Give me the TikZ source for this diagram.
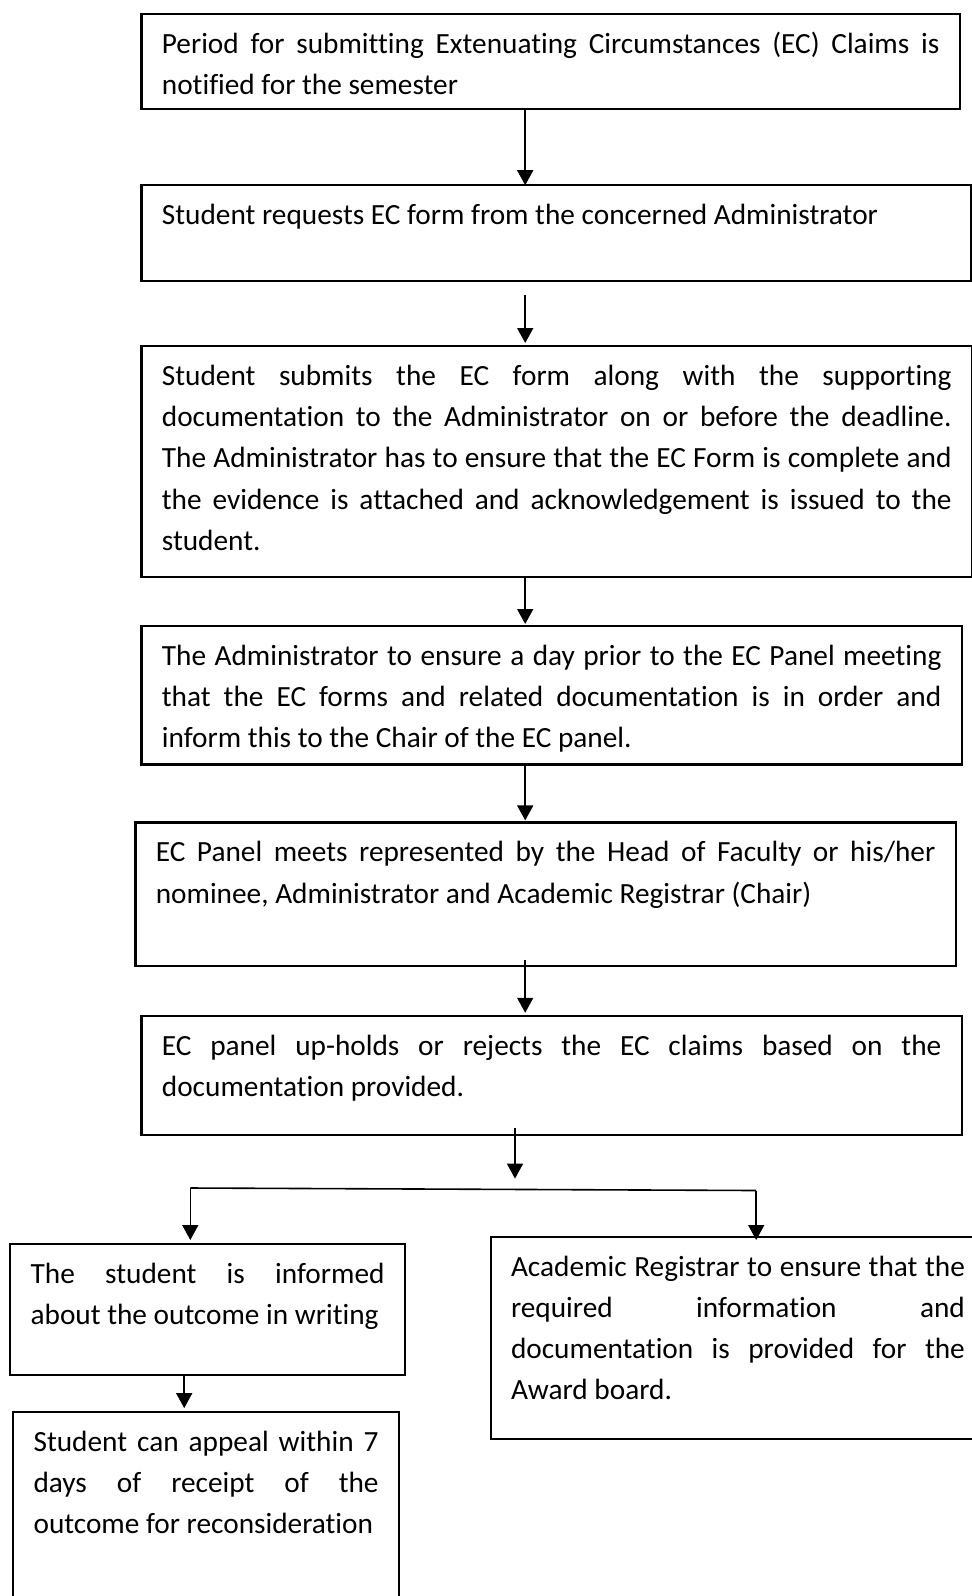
\documentclass[tikz,border=0pt]{standalone}
\usepackage{fontspec}
\setmainfont{Carlito}[Ligatures=NoCommon]
\usetikzlibrary{arrows.meta}
\tikzset{>={Triangle[width=8pt,length=7.5pt]}}
\tikzset{
  ecbox/.style={draw, line width=1.1pt, anchor=north west, outer sep=0pt,
    inner xsep=10.2pt, inner ysep=0pt, align=justify, text height=19.7pt,
    font=\fontsize{14.65}{20.6}\selectfont},
  flow/.style={->, line width=0.8pt}
}
\hyphenpenalty=10000
\exhyphenpenalty=10000
\tolerance=10000
\hbadness=10000

\begin{document}
\begin{tikzpicture}[x=0.5pt,y=-0.5pt]
		% page
		\useasboundingbox (0,0) rectangle (972,1596);
		% arrow columns
		\coordinate (col)  at (525.2,0);
		\coordinate (colL) at (184.2,0);
		% main chain of boxes
		\node[ecbox, text width=388.8pt,  text depth=27.65pt] (notify) at (141.5,14.2)
			{Period for submitting Extenuating Circumstances (EC) Claims is\linebreak notified for the semester};
		\node[ecbox, text width=394.35pt, text depth=28.15pt] (request) at (141.5,185.2)
			{Student requests EC form from the concerned Administrator};
		\node[ecbox, text width=394.85pt, text depth=95.8pt] (submit) at (141.5,346)
			{Student submits the EC form along with the supporting\linebreak documentation to the Administrator on or before the deadline.\linebreak The Administrator has to ensure that the EC Form is complete and\linebreak the evidence is attached and acknowledgement is issued to the\linebreak student.};
		\node[ecbox, text width=389.75pt, text depth=49.5pt] (check) at (141.5,626)
			{The Administrator to ensure a day prior to the EC Panel meeting\linebreak that the EC forms and related documentation is in order and\linebreak inform this to the Chair of the EC panel.};
		\node[ecbox, text width=389.75pt, text depth=52.05pt] (panel) at (135.4,822.4)
			{EC Panel meets represented by the Head of Faculty or his/her\linebreak nominee, Administrator and Academic Registrar (Chair)};
		\node[ecbox, text width=389.75pt, text depth=39.8pt] (decide) at (141.5,1015.8)
			{EC panel up-holds or rejects the EC claims based on the\linebreak documentation provided.};
		% outcome boxes
		\node[ecbox, text width=177pt,    text depth=45.9pt] (inform) at (10.2,1243.8)
			{The student is informed\linebreak about the outcome in writing};
		\node[ecbox, text width=172.5pt,  text depth=100pt] (appeal) at (13.2,1411.7)
			{Student can appeal within 7\linebreak days of receipt of the\linebreak outcome for reconsideration};
		\node[ecbox, text width=226.95pt, text depth=81.6pt] (award) at (490.6,1236.6)
			{Academic Registrar to ensure that the\linebreak required information and\linebreak documentation is provided for the\linebreak Award board.};
		% arrows down the chain
		\draw[flow] (notify.south -| col) -- (request.north -| col);
		\draw[flow, shorten <=7.15pt, shorten >=1.5pt] (request.south -| col) -- (submit.north -| col);
		\draw[flow, shorten >=1pt] (submit.south -| col) -- (check.north -| col);
		\draw[flow, shorten >=1pt] (check.south -| col) -- (panel.north -| col);
		\draw[flow, shorten <=-3pt, shorten >=1.5pt] (panel.south -| col) -- (decide.north -| col);
		% split to the two outcomes
		\coordinate (fork)  at (515,1178.6);
		\coordinate (forkL) at (190.3,1188);
		\coordinate (forkR) at (756.2,1190.5);
		\draw[flow, shorten <=-3.5pt] (decide.south -| fork) -- (fork);
		\draw[line width=0.8pt] (forkL) -- (forkR);
		\draw[flow, shorten >=1.9pt] (forkL) -- (inform.north -| forkL);
		\draw[flow, shorten >=-1.7pt] (forkR) -- (award.north -| forkR);
		\draw[flow, shorten >=1.8pt] (inform.south -| colL) -- (appeal.north -| colL);
\end{tikzpicture}
\end{document}
